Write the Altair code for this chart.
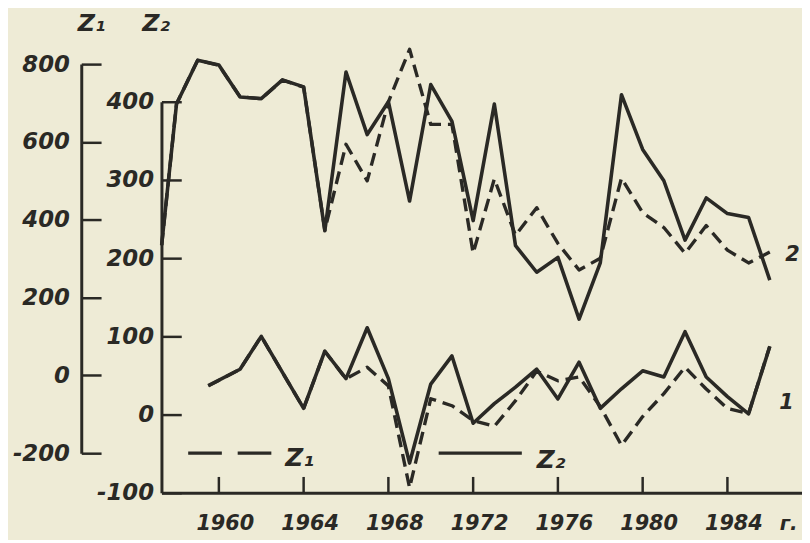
import altair as alt
import pandas as pd

# ---------------- data ----------------
# curve 2 (upper pair)
years_c2 = [1957.3, 1958, 1959, 1960, 1961, 1962, 1963, 1964, 1965, 1966, 1967, 1968,
            1969, 1970, 1971, 1972, 1973, 1974, 1975, 1976, 1977, 1978, 1979, 1980,
            1981, 1982, 1983, 1984, 1985, 1986]
c2_z2 = [217, 397, 453, 447, 406, 404, 428, 419, 235, 438, 358, 400,
         273, 422, 375, 248, 397, 216, 182, 201, 122, 194, 409, 339,
         299, 223, 277, 257, 252, 172]
c2_z1 = [334, 698, 810, 797, 716, 711, 759, 741, 373, 594, 500, 703,
         838, 645, 645, 314, 505, 360, 431, 339, 271, 301, 507, 418,
         380, 314, 385, 322, 289, 317]

# curve 1 (lower pair)
years_c1 = [1959.5, 1961, 1962, 1964, 1965, 1966, 1967, 1968, 1969, 1970, 1971, 1972,
            1973, 1974, 1975, 1976, 1977, 1978, 1979, 1980, 1981, 1982, 1983, 1984,
            1985, 1986]
c1_z2 = [37, 58, 100, 8, 81, 46, 111, 46, -62, 39, 75, -11,
         14, 35, 58, 20, 67, 8, 33, 56, 48, 106, 48, 23,
         1, 87]
c1_z1 = [-27, 16, 100, -85, 62, -9, 21, -27, -289, -60, -78, -116,
         -131, -65, 11, -14, -4, -80, -180, -106, -47, 21, -35, -85,
         -98, 75]

x_ticks = [1960, 1964, 1968, 1972, 1976, 1980, 1984]
z1_ticks = [-200, 0, 200, 400, 600, 800]
z2_ticks = [-100, 0, 100, 200, 300, 400]

# ---------------- tables ----------------
df_z2 = pd.concat([
    pd.DataFrame({"year": years_c2, "value": c2_z2, "curve": "2"}),
    pd.DataFrame({"year": years_c1, "value": c1_z2, "curve": "1"}),
])
df_z1 = pd.concat([
    pd.DataFrame({"year": years_c2, "value": c2_z1, "curve": "2"}),
    pd.DataFrame({"year": years_c1, "value": c1_z1, "curve": "1"}),
])
df_ticks = pd.DataFrame({"year": x_ticks})

INK = "#2a2925"
BG = "#eeebd6"
FONT = "DejaVu Sans"
W, H = 647, 475

x_scale = alt.Scale(domain=[1957.29, 1987.52], nice=False, zero=False)
x_axis = alt.Axis(
    orient="top", offset=-H, values=x_ticks, format="d", ticks=False,
    domainWidth=3, domainColor=INK, grid=False,
    labelFont=FONT, labelFontSize=21, labelFontStyle="italic", labelFontWeight="bold",
    labelColor=INK, labelBaseline="top", labelPadding=-20, labelOffset=6,
    labelFlush=False, labelOverlap=False,
    title="г.", titleX=633, titleY=31, titleAngle=0, titleAlign="center",
    titleBaseline="middle", titleFont=FONT, titleFontSize=20, titleFontStyle="italic",
    titleFontWeight="bold", titleColor=INK,
)
x_enc = alt.X("year:Q", scale=x_scale, axis=x_axis)


def y_axis(vals, offset, lab_gap, title, tx):
    return alt.Axis(
        orient="right", offset=offset, values=vals,
        tickSize=20, tickWidth=2.5, tickColor=INK,
        domainWidth=3, domainColor=INK, grid=False,
        labelExpr="toString(datum.value)",
        labelFont=FONT, labelFontSize=23, labelFontStyle="italic", labelFontWeight="bold",
        labelColor=INK, labelAlign="right", labelBaseline="middle",
        labelPadding=-(20 + lab_gap), labelFlush=False, labelOverlap=False,
        title=title, titleX=tx, titleY=1, titleAngle=0, titleAlign="center",
        titleBaseline="middle", titleFont=FONT, titleFontSize=24, titleFontStyle="italic",
        titleFontWeight="bold", titleColor=INK,
    )


dashed = alt.Chart(df_z1).mark_line(
    color=INK, strokeWidth=3.4, strokeDash=[13, 7], strokeJoin="round"
).encode(
    x=x_enc,
    y=alt.Y("value:Q", scale=alt.Scale(domain=[-200, 800], range=[435, 42], nice=False, zero=False),
            axis=y_axis(z1_ticks, -(W + 81), 12, "Z₁", 10)),
    detail="curve:N",
)

solid = alt.Chart(df_z2).mark_line(
    color=INK, strokeWidth=3.6, strokeJoin="round"
).encode(
    x=x_enc,
    y=alt.Y("value:Q", scale=alt.Scale(domain=[-100, 400], range=[H, 80], nice=False, zero=False),
            axis=y_axis(z2_ticks, -W, 8, "Z₂", -6)),
    detail="curve:N",
)

# inward x ticks, placed through the x scale
xticks = alt.Chart(df_ticks).mark_rule(color=INK, strokeWidth=2.5).encode(
    x=alt.X("year:Q", scale=x_scale, axis=x_axis),
    y=alt.value(H - 16), y2=alt.value(H),
)

one = pd.DataFrame({"k": [0]})

leg_dash = alt.Chart(one).mark_rule(color=INK, strokeWidth=3.2, strokeDash=[34, 16]).encode(
    x=alt.value(27), x2=alt.value(122), y=alt.value(435))
leg_solid = alt.Chart(one).mark_rule(color=INK, strokeWidth=3.2).encode(
    x=alt.value(280), x2=alt.value(364), y=alt.value(435))

txt_style = dict(font=FONT, fontStyle="italic", fontWeight="bold", color=INK,
                 align="left", baseline="middle")
leg_t1 = alt.Chart(one).mark_text(fontSize=25, **txt_style).encode(
    x=alt.value(125), y=alt.value(440), text=alt.value("Z₁"))
leg_t2 = alt.Chart(one).mark_text(fontSize=25, **txt_style).encode(
    x=alt.value(379), y=alt.value(442), text=alt.value("Z₂"))
lab2 = alt.Chart(one).mark_text(fontSize=21, **txt_style).encode(
    x=alt.value(630), y=alt.value(235), text=alt.value("2"))
lab1 = alt.Chart(one).mark_text(fontSize=21, **txt_style).encode(
    x=alt.value(624), y=alt.value(384), text=alt.value("1"))

chart = alt.layer(
    dashed, solid, xticks, leg_dash, leg_solid, leg_t1, leg_t2, lab2, lab1
).resolve_scale(y="independent").properties(
    width=W, height=H,
    autosize=alt.AutoSizeParams(type="none"),
    padding={"left": 155, "top": 12, "right": 0, "bottom": 45},
    background=BG,
).configure_view(stroke=None)

chart.save("out.html", embed_options={"renderer": "svg", "actions": False})
